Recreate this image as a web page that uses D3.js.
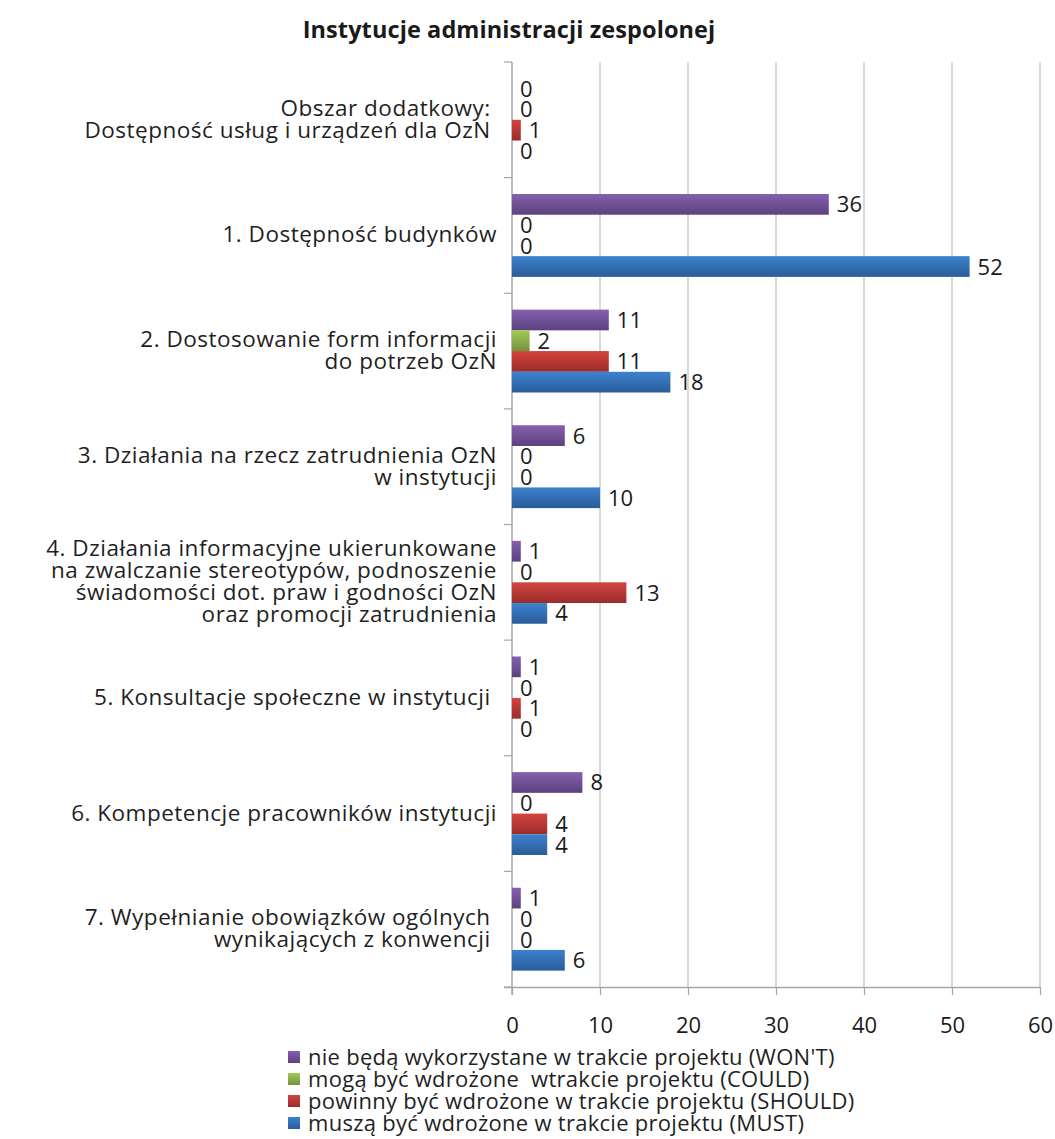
<!DOCTYPE html>
<html>
<head>
<meta charset="utf-8">
<script src="https://cdn.jsdelivr.net/npm/d3@7"></script>
<style>
  html, body { margin: 0; padding: 0; background: #fff; }
  svg { display: block; font-family: "Open Sans", sans-serif; }
  svg text { white-space: pre; }
</style>
</head>
<body>
<svg id="chart" width="1055" height="1139"></svg>
<script>
// Category labels, top to bottom (line breaks marked with \n)
const categories = [
  "Obszar dodatkowy: \nDostępność usług i urządzeń dla OzN ",
  "1. Dostępność budynków",
  "2. Dostosowanie form informacji\ndo potrzeb OzN",
  "3. Działania na rzecz zatrudnienia OzN\nw instytucji",
  "4. Działania informacyjne ukierunkowane\nna zwalczanie stereotypów, podnoszenie\nświadomości dot. praw i godności OzN\noraz promocji zatrudnienia",
  "5. Konsultacje społeczne w instytucji ",
  "6. Kompetencje pracowników instytucji",
  "7. Wypełnianie obowiązków ogólnych \nwynikających z konwencji "
];

// Counts per category for each priority level
const wontValues   = [0, 36, 11, 6, 1, 1, 8, 1];
const couldValues  = [0, 0, 2, 0, 0, 0, 0, 0];
const shouldValues = [1, 0, 11, 0, 13, 1, 4, 0];
const mustValues   = [0, 52, 18, 10, 4, 0, 4, 6];

const seriesKeys = ["wont", "could", "should", "must"];
const seriesLabels = [
  "nie będą wykorzystane w trakcie projektu (WON'T)",
  "mogą być wdrożone  wtrakcie projektu (COULD)",
  "powinny być wdrożone w trakcie projektu (SHOULD)",
  "muszą być wdrożone w trakcie projektu (MUST)"
];
const xTicks = [0, 10, 20, 30, 40, 50, 60];
const chartTitle = "Instytucje administracji zespolonej";

const seriesValues = { wont: wontValues, could: couldValues, should: shouldValues, must: mustValues };
const palette = {
  wont:   ["#8660b0", "#5c417e"],
  could:  ["#a3c95a", "#74933a"],
  should: ["#d4433f", "#9b2c2a"],
  must:   ["#3c82cf", "#2a5c98"]
};

const svg = d3.select("#chart");
const plot = { left: 512, right: 1040, top: 62, bottom: 987 };

// Vertical gradients give the bars their shaded look
const defs = svg.append("defs");
seriesKeys.forEach(k => {
  const g = defs.append("linearGradient").attr("id", "grad-" + k)
    .attr("x1", 0).attr("y1", 0).attr("x2", 0).attr("y2", 1);
  g.append("stop").attr("offset", "0%").attr("stop-color", palette[k][0]);
  g.append("stop").attr("offset", "100%").attr("stop-color", palette[k][1]);
});

const x = d3.scaleLinear().domain([0, 60]).range([plot.left, plot.right]);
const y = d3.scaleBand().domain(categories).range([plot.top, plot.bottom]).padding(0);
const ySub = d3.scaleBand().domain(seriesKeys).range([0, y.bandwidth()])
  .paddingInner(0).paddingOuter(0.79);

// Title
svg.append("text")
  .attr("x", 509).attr("y", 38)
  .attr("text-anchor", "middle")
  .attr("font-size", 23.5).attr("font-weight", "bold").attr("fill", "#1a1a1a")
  .attr("letter-spacing", 0.1)
  .text(chartTitle);

// Vertical gridlines
svg.append("g").selectAll("line")
  .data(xTicks.filter(t => t > 0))
  .join("line")
  .attr("x1", d => x(d)).attr("x2", d => x(d))
  .attr("y1", plot.top).attr("y2", plot.bottom)
  .attr("stroke", "#b3b3b3").attr("stroke-width", 1);

// Bottom axis
const xAxis = svg.append("g")
  .attr("transform", `translate(0,${plot.bottom})`)
  .call(d3.axisBottom(x).tickValues(xTicks).tickSize(8).tickSizeOuter(0).tickPadding(22));
xAxis.select(".domain").attr("stroke", "#a6a6a6").attr("stroke-width", 1.5)
  .attr("d", `M${plot.left - 8},0.5H${plot.right}`);
xAxis.selectAll(".tick line").attr("stroke", "#a6a6a6").attr("stroke-width", 1.2);
xAxis.selectAll(".tick text").attr("font-size", 22).attr("fill", "#1a1a1a")
  .attr("font-family", "Open Sans, sans-serif");

// Left axis with ticks at category boundaries
const leftAxis = svg.append("g");
leftAxis.append("line")
  .attr("x1", plot.left).attr("x2", plot.left)
  .attr("y1", plot.top).attr("y2", plot.bottom + 8)
  .attr("stroke", "#a6a6a6").attr("stroke-width", 1.5);
const boundaries = categories.map(c => y(c)).concat([plot.bottom]);
leftAxis.selectAll("line.tick").data(boundaries).join("line")
  .attr("class", "tick")
  .attr("x1", plot.left - 8).attr("x2", plot.left)
  .attr("y1", d => d).attr("y2", d => d)
  .attr("stroke", "#a6a6a6").attr("stroke-width", 1.2);

// Category labels (multi-line, right-aligned)
const catG = svg.append("g");
categories.forEach(c => {
  const lines = c.split("\n");
  const lh = 22;
  const cy = y(c) + y.bandwidth() / 2 - 1;
  const t = catG.append("text")
    .attr("text-anchor", "end")
    .attr("font-size", 22.5).attr("fill", "#1f1f1f")
    .attr("letter-spacing", 0.5);
  lines.forEach((ln, i) => {
    t.append("tspan")
      .attr("x", 497)
      .attr("y", cy + (i - (lines.length - 1) / 2) * lh + 8)
      .text(ln);
  });
});

// Bars and value labels
const groups = svg.append("g").selectAll("g")
  .data(categories)
  .join("g")
  .attr("transform", d => `translate(0,${y(d)})`);

groups.each(function (cat, ci) {
  const g = d3.select(this);
  seriesKeys.forEach(k => {
    const v = seriesValues[k][ci];
    if (v > 0) {
      g.append("rect")
        .attr("x", x(0)).attr("y", ySub(k))
        .attr("width", x(v) - x(0)).attr("height", ySub.bandwidth())
        .attr("fill", `url(#grad-${k})`);
    }
    g.append("text")
      .attr("x", x(v) + 8)
      .attr("y", ySub(k) + ySub.bandwidth() / 2 + 8)
      .attr("font-size", 22).attr("fill", "#1a1a1a")
      .text(v);
  });
});

// Legend
const legend = svg.append("g");
seriesKeys.forEach((k, i) => {
  const ly = 1057 + i * 22;
  legend.append("rect")
    .attr("x", 288).attr("y", ly - 6).attr("width", 12).attr("height", 12)
    .attr("fill", `url(#grad-${k})`);
  legend.append("text")
    .attr("x", 308).attr("y", ly + 8)
    .attr("font-size", 22).attr("fill", "#1f1f1f")
    .attr("letter-spacing", 0.28)
    .text(seriesLabels[i]);
});
</script>
</body>
</html>
